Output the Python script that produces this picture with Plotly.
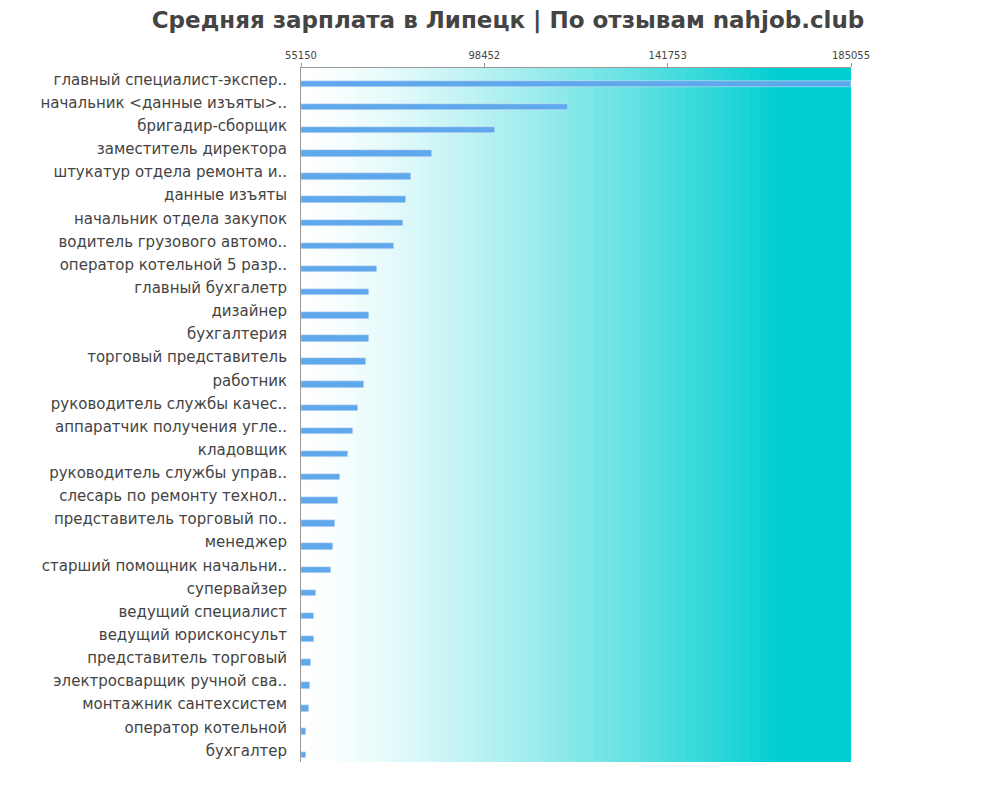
import plotly.graph_objects as go

jobs = [
    "главный специалист-экспер..", "начальник <данные изъяты>..", "бригадир-сборщик",
    "заместитель директора", "штукатур отдела ремонта и..", "данные изъяты",
    "начальник отдела закупок", "водитель грузового автомо..", "оператор котельной 5 разр..",
    "главный бухгалетр", "дизайнер", "бухгалтерия", "торговый представитель",
    "работник", "руководитель службы качес..", "аппаратчик получения угле..",
    "кладовщик", "руководитель службы управ..", "слесарь по ремонту технол..",
    "представитель торговый по..", "менеджер", "старший помощник начальни..",
    "супервайзер", "ведущий специалист", "ведущий юрисконсульт",
    "представитель торговый", "электросварщик ручной сва..", "монтажник сантехсистем",
    "оператор котельной", "бухгалтер",
]
salaries = [
    185055, 118200, 101000, 86100, 81100, 80000, 79200, 77100, 73100, 71200,
    71200, 71200, 70500, 70000, 68600, 67400, 66300, 64400, 63900, 63200,
    62700, 62200, 58700, 58200, 58200, 57500, 57300, 57000, 56300, 56300,
]
tick_vals = [55150, 98452, 141753, 185055]

xmin, xmax = 55150, 185055

fig = go.Figure()
fig.add_trace(go.Bar(
    y=jobs, x=[s - xmin for s in salaries], base=xmin, orientation="h",
    width=0.28, offset=0.05,
    marker=dict(color="#5fa8ec"), hoverinfo="x+y",
))

# gradient background, white -> teal
shapes = []
n = 60
for i in range(n):
    t = i / (n - 1)
    f = min(1.0, t / 0.88) ** 1.3
    r = round(255 + (0 - 255) * f)
    g = round(255 + (206 - 255) * f)
    b = round(255 + (209 - 255) * f)
    shapes.append(dict(type="rect", xref="paper", yref="paper",
                       x0=i / n, x1=min(1, (i + 1.6) / n), y0=0, y1=1,
                       fillcolor=f"rgb({r},{g},{b})", line_width=0, layer="below"))

fig.update_layout(
    width=1000, height=800,
    paper_bgcolor="white", plot_bgcolor="white",
    shapes=shapes,
    title=dict(text="<b>Средняя зарплата в Липецк | По отзывам nahjob.club</b>",
               x=0.5, y=0.995, xanchor="center",
               font=dict(size=23, color="#444", family="DejaVu Sans")),
    margin=dict(l=293, r=157, t=60, b=46),
    showlegend=False, bargap=0,
    xaxis=dict(side="top", range=[xmin, xmax], tickvals=tick_vals,
               ticktext=[str(v) for v in tick_vals], showgrid=False,
               ticks="outside", ticklen=4, tickcolor="#999",
               tickfont=dict(size=10, color="#444", family="DejaVu Sans"),
               showline=True, linecolor="#999", zeroline=False),
    yaxis=dict(autorange="reversed", showgrid=False, showline=True, linecolor="#999",
               ticks="", ticklabelstandoff=10,
               tickfont=dict(size=15, color="#444", family="DejaVu Sans")),
)

fig.write_html("out.html")
